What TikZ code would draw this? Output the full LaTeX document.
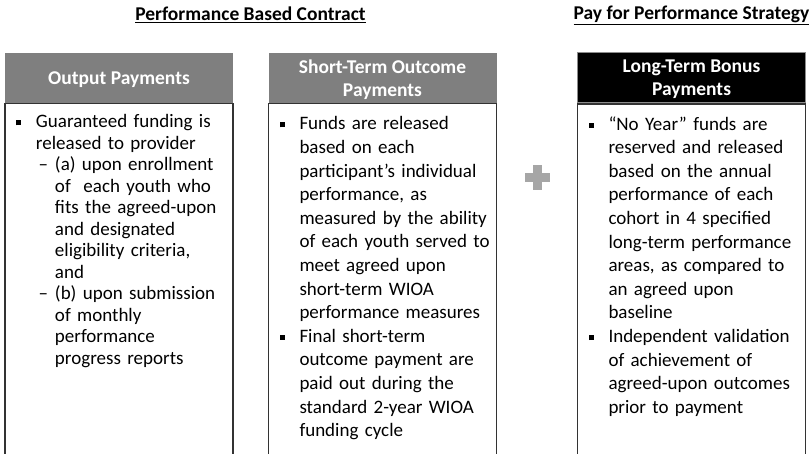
\documentclass[tikz,border=0pt]{standalone}
\usepackage{fontspec}
\setmainfont{Carlito}
\usepackage{enumitem}
\usetikzlibrary{positioning}
\tikzset{>=latex}
\newcommand{\sqbul}{\rule[2.5pt]{5pt}{5pt}}
\setlist[itemize,1]{label=\sqbul, leftmargin=27pt, labelwidth=5pt, labelsep=15pt, align=right, rightmargin=-30pt, nosep}
\setlist[itemize,2]{label=--, leftmargin=19pt, labelsep=7pt, rightmargin=0pt, nosep}
\definecolor{headgray}{HTML}{7F7F7F}
\definecolor{plusgray}{HTML}{A6A6A6}

\begin{document}
\begin{tikzpicture}[x=1pt, y=-1pt,
  title/.style={font=\bfseries\fontsize{19.5}{23}\selectfont},
  head/.style={minimum width=228pt, minimum height=50pt, inner sep=0pt, align=center,
    text depth=0pt, text=white, fill=headgray, font=\bfseries\fontsize{19.5}{23}\selectfont},
  body/.style={draw=black!80, line width=1.2pt, inner xsep=4pt, inner ysep=2.5pt,
    text width=220pt, text depth=420pt, align=left, below=0pt of #1,
    font=\fontsize{19}{23.6}\selectfont}]
\useasboundingbox (0,0) rectangle (812,454);
\clip (0,0) rectangle (812,454);

\node[title] (pbc) at (250.5,15) {\underline{Performance Based Contract}};
\node[title] (pfp) at (691.5,15) {\underline{Pay for Performance Strategy}};

\node[head] (out-h) at (119,78) {Output Payments};
\node[head] (sto-h) at (382.5,78) {Short-Term Outcome\\Payments};
\node[head, fill=black, draw=black!45, line width=1pt] (lto-h) at (691.5,78) {Long-Term Bonus\\Payments};

\node[body=out-h, font=\fontsize{19}{21.5}\selectfont] (out-b) {%
\begin{itemize}
\item Guaranteed funding is\\ released to provider
  \begin{itemize}
  \item (a) upon enrollment\\ of~ each youth who\\ fits the agreed-upon\\ and designated\\ eligibility criteria,\\ and
  \item (b) upon submission\\ of monthly\\ performance\\ progress reports
  \end{itemize}
\end{itemize}};

\node[body=sto-h] (sto-b) {%
\begin{itemize}
\item Funds are released\\ based on each\\ participant’s individual\\ performance, as\\ measured by the ability\\ of each youth served to\\ meet agreed upon\\ short-term WIOA\\ performance measures
\item Final short-term\\ outcome payment are\\ paid out during the\\ standard 2-year WIOA\\ funding cycle
\end{itemize}};

\node[body=lto-h] (lto-b) {%
\begin{itemize}
\item “No Year” funds are\\ reserved and released\\ based on the annual\\ performance of each\\ cohort in 4 specified\\ long-term performance\\ areas, as compared to\\ an agreed upon\\ baseline
\item Independent validation\\ of achievement of\\ agreed-upon outcomes\\ prior to payment
\end{itemize}};

% plus sign between the two parts
\coordinate (plus) at (537,178);
\fill[plusgray] ([shift={(-12.5,-4.5)}]plus) rectangle ([shift={(12.5,4.5)}]plus);
\fill[plusgray] ([shift={(-4.5,-12.5)}]plus) rectangle ([shift={(4.5,12.5)}]plus);
\end{tikzpicture}
\end{document}
